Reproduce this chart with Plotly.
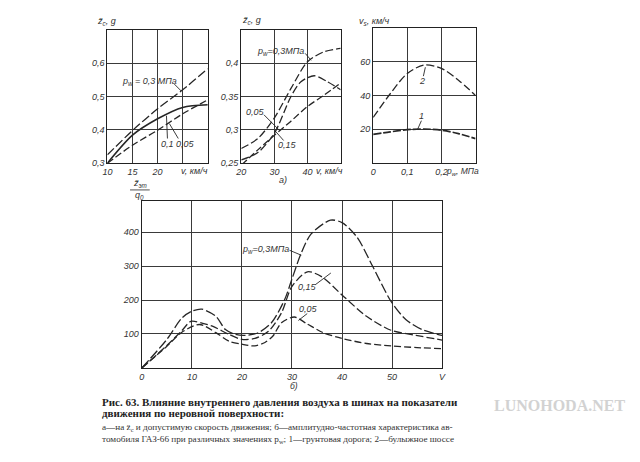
import plotly.graph_objects as go

# ---------------- data ----------------
# panel a) left: z''c vs v
v1 = [10, 15, 20, 25, 30]
z1_p03 = [0.325, 0.398, 0.463, 0.52, 0.583]
z1_p01 = [0.30, 0.384, 0.433, 0.467, 0.475]
z1_p005 = [0.30, 0.354, 0.399, 0.448, 0.49]

# panel a) middle: z''c vs v
v2 = [20, 25, 30, 35, 40, 45, 50]
z2_p03 = [0.272, 0.287, 0.318, 0.362, 0.402, 0.417, 0.422]
z2_p005 = [0.247, 0.27, 0.292, 0.313, 0.335, 0.352, 0.37]
v2b = [20, 25, 30, 35, 38, 42, 46, 50]
z2_p015 = [0.255, 0.266, 0.295, 0.35, 0.372, 0.381, 0.372, 0.36]

# panel a) right: vs vs pw
pw3 = [0, 0.05, 0.1, 0.15, 0.2, 0.25, 0.3]
vs_road2 = [27, 41, 53, 58, 56, 49, 40]
vs_road1 = [17, 18.5, 19.8, 20.2, 19.5, 17.5, 14.5]

# panel b): amplitude-frequency characteristic
v4a = [0, 5, 8, 10, 12, 14.8, 16.7, 18.7, 20.7, 23.3, 25.9, 28.5, 30, 31.8, 33.8, 37.7, 40, 43, 46.2, 49.8, 52.8, 56, 60]
z4_p03 = [0, 84, 147, 167, 173, 152, 113, 99, 96, 104, 133, 200, 262, 336, 394, 435, 428, 385, 297, 196, 142, 113, 96]
v4b = [0, 5, 8, 9.8, 12, 14.1, 17.4, 20, 22.6, 25.3, 27.9, 30, 33.1, 36, 40, 44.9, 49.8, 54.8, 60]
z4_p015 = [0, 66, 110, 137, 132, 123, 99, 84, 87, 108, 162, 240, 283, 268, 215, 152, 111, 96, 82]
v4c = [0, 5, 8, 11.5, 14.8, 17.4, 20, 22.6, 24.6, 26.2, 27.9, 30.5, 33, 36.4, 40, 44.9, 49.8, 55, 60]
z4_p005 = [0, 64, 105, 128, 104, 79, 70, 65, 75, 94, 133, 150, 130, 103, 87, 72, 65, 60, 57]

# ticks
t1x = [10, 15, 20, 25]; t1x_txt = ["10", "15", "20", ""]
t1y = [0.3, 0.4, 0.5, 0.6]; t1y_txt = ["0,3", "0,4", "0,5", "0,6"]
t2x = [20, 30, 40, 50]; t2x_txt = ["20", "30", "40", ""]
t2y = [0.25, 0.3, 0.35, 0.4]; t2y_txt = ["0,25", "0,3", "0,35", "0,4"]
t3x = [0, 0.1, 0.2, 0.3]; t3x_txt = ["0", "0,1", "0,2", ""]
t3y = [0, 20, 40, 60]; t3y_txt = ["", "20", "40", "60"]
t4x = [0, 10, 20, 30, 40, 50, 60]; t4x_txt = ["0", "10", "20", "30", "40", "50", "V"]
t4y = [0, 100, 200, 300, 400]; t4y_txt = ["", "100", "200", "300", "400"]

W, H = 640, 462
def px(x): return x / W
def py(y): return 1 - y / H

INK = "#262626"
FONT = "Liberation Sans"
tick_font = dict(family=FONT, size=9, color="#333", style="italic")

fig = go.Figure()

def add(x, y, xa, ya, dash, width=1.3):
    fig.add_trace(go.Scatter(x=x, y=y, xaxis=xa, yaxis=ya, mode="lines",
                             line=dict(color=INK, width=width, dash=dash, shape="spline", smoothing=0.8),
                             showlegend=False, hoverinfo="skip"))

add(v1, z1_p03, "x", "y", "9px,3px")
add(v1, z1_p01, "x", "y", "solid", 1.6)
add(v1, z1_p005, "x", "y", "7px,3px")

add(v2, z2_p03, "x2", "y2", "8px,3px")
add(v2b, z2_p015, "x2", "y2", "8px,3px")
add(v2, z2_p005, "x2", "y2", "7px,3px")

add(pw3, vs_road2, "x3", "y3", "8px,3px")
add(pw3, vs_road1, "x3", "y3", "8px,2px", 1.7)

add(v4a, z4_p03, "x4", "y4", "10px,3px")
add(v4b, z4_p015, "x4", "y4", "8px,3px")
add(v4c, z4_p005, "x4", "y4", "7px,3px")

def axis(domain, rng, tv, tt, anchor):
    return dict(domain=domain, range=rng, tickvals=tv, ticktext=tt, anchor=anchor,
                showline=True, mirror=True, linecolor="#222", linewidth=1.3,
                showgrid=True, gridcolor="#3a3a3a", gridwidth=1, zeroline=False,
                ticks="", tickfont=tick_font, fixedrange=True)

fig.update_layout(
    width=W, height=H, margin=dict(l=0, r=0, t=0, b=0),
    paper_bgcolor="white", plot_bgcolor="white",
    xaxis=axis([px(103), px(205)], [10, 30], t1x, t1x_txt, "y"),
    yaxis=axis([py(165), py(30)], [0.3, 0.7], t1y, t1y_txt, "x"),
    xaxis2=axis([px(239), px(340)], [20, 50], t2x, t2x_txt, "y2"),
    yaxis2=axis([py(165), py(30)], [0.25, 0.45], t2y, t2y_txt, "x2"),
    xaxis3=axis([px(373), px(477)], [0, 0.3], t3x, t3x_txt, "y3"),
    yaxis3=axis([py(165), py(28)], [0, 80], t3y, t3y_txt, "x3"),
    xaxis4=axis([px(138), px(443)], [0, 60], t4x, t4x_txt, "y4"),
    yaxis4=axis([py(372), py(203)], [0, 492], t4y, t4y_txt, "x4"),
)

ann = []
def text(x, y, s, size=9, xanchor="center", style="italic", family=FONT, color="#333", weight="normal"):
    ann.append(dict(x=px(x), y=py(y), xref="paper", yref="paper", text=s, showarrow=False,
                    xanchor=xanchor, yanchor="middle",
                    font=dict(family=family, size=size, color=color, style=style, weight=weight)))

shapes = []
def seg(x0, y0, x1, y1, w=0.9):
    shapes.append(dict(type="line", xref="paper", yref="paper", x0=px(x0), y0=py(y0), x1=px(x1), y1=py(y1),
                       line=dict(color=INK, width=w)))

# axis titles / units
text(102, 22, "z̈<sub>c</sub>, g")
text(191, 173, "v, км/ч")
text(249, 21, "z̈<sub>c</sub>, g")
text(329, 173, "v, км/ч")
text(281, 182, "а)")
text(374, 22, "v<sub>s</sub>, км/ч")
text(464, 173, "p<sub>w</sub>, МПа", size=8.5)
text(136, 186, "z̈<sub>эт</sub>")
seg(126, 192, 146, 192, 0.8)
text(136, 198, "q<sub>0</sub>")
text(293, 390, "б)", size=8.5)

# curve labels with leaders
text(146, 82, "p<sub>w</sub> = 0,3 МПа")
seg(171, 85, 178, 92)
text(164, 146, "0,1")
text(182, 146, "0,05")
seg(164, 140, 163, 117)
seg(175, 140, 166, 125)

text(279, 52, "p<sub>w</sub>=0,3МПа")
seg(304, 54, 310, 61)
text(253, 113, "0,05")
seg(262, 116, 278, 132)
text(286, 147, "0,15")
seg(282, 142, 274, 133)

text(423, 82, "2")
seg(424, 77, 426, 68)
text(422, 117, "1")
seg(422, 122, 418, 131)

text(264, 252, "p<sub>w</sub>=0,3МПа")
seg(288, 253, 300, 258)
text(306, 290, "0,15")
seg(314, 288, 330, 276)
text(307, 312, "0,05")
seg(306, 317, 297, 324)

# caption
SERIF = "Liberation Serif"
text(95, 406, "Рис. 63. Влияние внутреннего давления воздуха в шинах на показатели", size=11,
     xanchor="left", style="normal", family=SERIF, color="#222", weight="bold")
text(95, 418, "движения по неровной поверхности:", size=11,
     xanchor="left", style="normal", family=SERIF, color="#222", weight="bold")
text(95, 432, "а—на z̈<sub>c</sub> и допустимую скорость движения; б—амплитудно-частотная характеристика ав-",
     size=9.2, xanchor="left", style="normal", family=SERIF, color="#333")
text(95, 444, "томобиля ГАЗ-66 при различных значениях p<sub>w</sub>; 1—грунтовая дорога; 2—булыжное шоссе",
     size=9.2, xanchor="left", style="normal", family=SERIF, color="#333")

# watermark
text(562, 410, "LUNOHODA.NET", size=16, style="normal", family=SERIF, color="#d2d2d2", weight="bold")

fig.update_layout(annotations=ann, shapes=shapes)
fig.write_html("out.html")
